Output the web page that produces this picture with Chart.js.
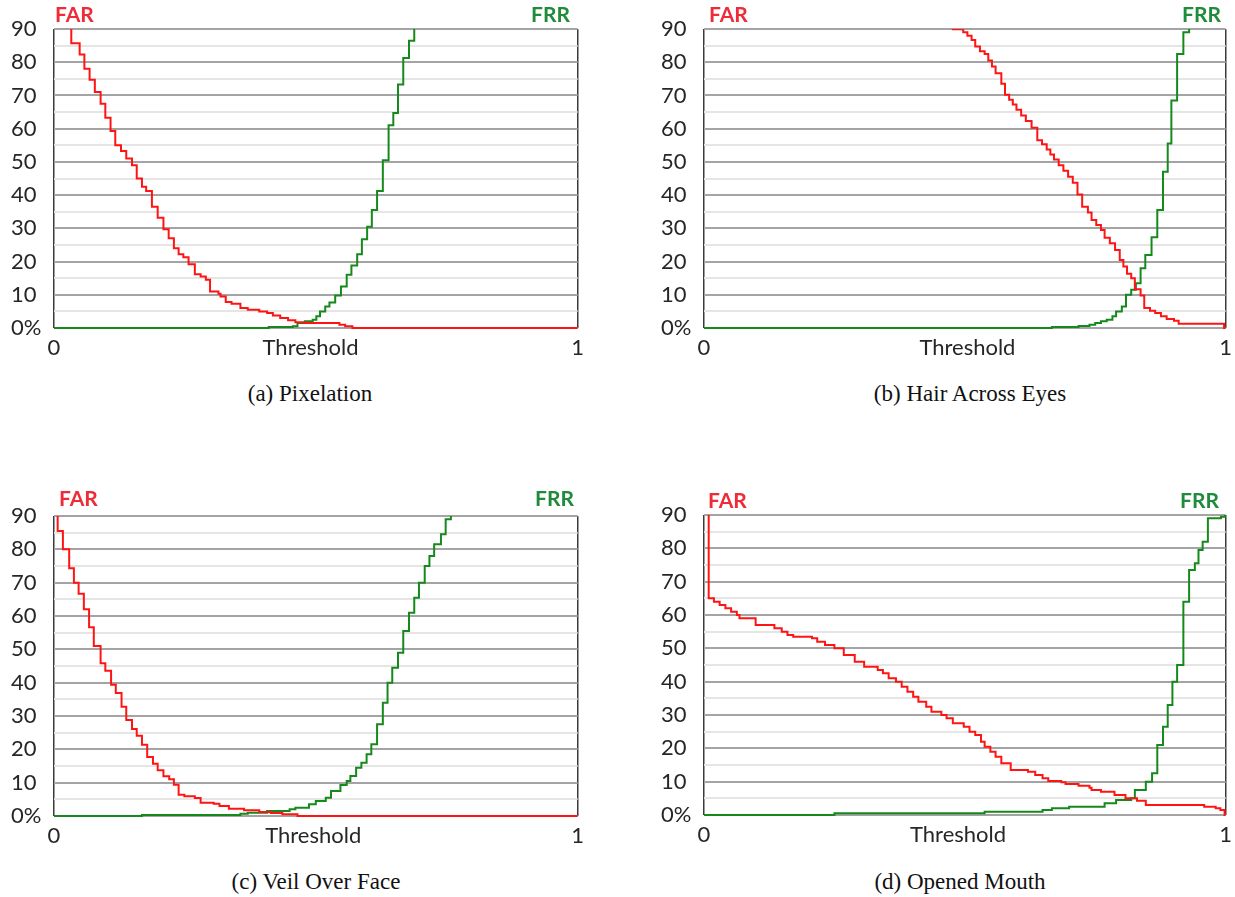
<!DOCTYPE html>
<html>
<head>
<meta charset="utf-8">
<script src="https://cdn.jsdelivr.net/npm/chart.js@4.4.1/dist/chart.umd.min.js"></script>
<style>
html,body{margin:0;padding:0;background:#fff;overflow:hidden;}
#stage{position:relative;width:1235px;height:897px;background:#fff;}
.box{position:absolute;}
.box canvas{display:block;}
.lbl{position:absolute;font-family:Lato,"Open Sans",sans-serif;font-weight:700;font-size:21px;line-height:21px;white-space:nowrap;}
.far{color:#ee2b36;}
.frr{color:#1f8b3b;}
.cap{position:absolute;width:400px;text-align:center;font-family:"Liberation Serif","Times New Roman",serif;font-size:23px;line-height:23px;color:#111;white-space:nowrap;}
</style>
</head>
<body>
<div id="stage">
  <div class="box" id="boxA"><canvas id="cA"></canvas></div>
  <div class="box" id="boxB"><canvas id="cB"></canvas></div>
  <div class="box" id="boxC"><canvas id="cC"></canvas></div>
  <div class="box" id="boxD"><canvas id="cD"></canvas></div>

  <div class="lbl far" style="left:55px;top:3px;">FAR</div>
  <div class="lbl frr" style="left:531px;top:3px;">FRR</div>
  <div class="lbl far" style="left:709px;top:3px;">FAR</div>
  <div class="lbl frr" style="left:1182px;top:3px;">FRR</div>
  <div class="lbl far" style="left:59px;top:487px;">FAR</div>
  <div class="lbl frr" style="left:535px;top:487px;">FRR</div>
  <div class="lbl far" style="left:708px;top:489px;">FAR</div>
  <div class="lbl frr" style="left:1180px;top:489px;">FRR</div>

  <div class="cap" style="left:110px;top:382px;">(a) Pixelation</div>
  <div class="cap" style="left:770px;top:382px;">(b) Hair Across Eyes</div>
  <div class="cap" style="left:116px;top:870px;">(c) Veil Over Face</div>
  <div class="cap" style="left:760px;top:870px;">(d) Opened Mouth</div>
</div>
<script>
// ---------- tick labels ----------
const yMinorTicks = [0,5,10,15,20,25,30,35,40,45,50,55,60,65,70,75,80,85,90];
const yMajorTicks = [0,10,20,30,40,50,60,70,80,90];
const yTickLabels = ['0%','10','20','30','40','50','60','70','80','90'];
const xTickLabels = ['0','Threshold','1'];

// ---------- (a) Pixelation ----------
const farA_x = [0,0.033,0.049,0.058,0.068,0.078,0.089,0.098,0.108,0.117,0.128,0.138,0.149,0.158,0.168,0.176,0.187,0.198,0.209,0.219,0.229,0.238,0.247,0.257,0.269,0.280,0.290,0.298,0.314,0.318,0.328,0.339,0.356,0.370,0.392,0.407,0.418,0.432,0.447,0.461,0.479,0.545,0.556,0.570,1];
const farA_y = [100,85.7,82.3,78,74.7,71,67.5,63.3,59.3,55,53.3,51,49,45,42.5,41.2,36.5,33.2,29.7,27,24,22.2,21.3,19.2,16.2,15.5,14.5,11,10.3,9.5,7.8,7.3,6,5.5,5,4.5,3.8,3,2.3,1.7,1.5,1,0.5,0,0];
const frrA_x = [0,0.410,0.456,0.465,0.479,0.494,0.501,0.508,0.518,0.526,0.537,0.548,0.559,0.568,0.579,0.588,0.598,0.607,0.617,0.628,0.639,0.648,0.657,0.667,0.678,0.688,1];
const frrA_y = [0,0.3,0.5,1.5,2,2.5,3.5,5,6.5,7.7,9.8,12.5,16,18.8,22.2,26.7,30.5,35.5,41.2,50.5,61,64.7,73.3,81.3,86.5,100,100];

// ---------- (b) Hair Across Eyes ----------
const farB_x = [0,0.477,0.497,0.505,0.513,0.520,0.529,0.538,0.545,0.552,0.559,0.570,0.577,0.585,0.592,0.599,0.608,0.617,0.628,0.639,0.648,0.657,0.664,0.671,0.680,0.689,0.698,0.707,0.716,0.725,0.736,0.743,0.752,0.761,0.768,0.778,0.788,0.797,0.804,0.811,0.819,0.826,0.837,0.844,0.855,0.865,0.876,0.887,0.901,0.910,0.997,1];
const farB_y = [100,89.9,89,88,86.7,84.7,83.3,82.5,80.5,78.7,76.7,73.5,70.2,68.7,67.3,65.7,64,62.3,60.3,56.5,55.3,53.7,52.2,50.7,49,47.3,45.5,43.7,40.2,36.5,34.8,32.5,31,29.5,27.2,25.5,23.5,20.5,18.5,16.3,15,11.7,9.8,6,5.2,4.5,3.5,2.7,2.2,1.3,0,0];
const frrB_x = [0,0.667,0.718,0.739,0.750,0.761,0.772,0.783,0.790,0.801,0.809,0.819,0.828,0.837,0.846,0.858,0.869,0.880,0.889,0.896,0.907,0.919,0.930,1];
const frrB_y = [0,0.3,0.6,1,1.5,2,2.5,3.5,5,6.5,10,11.5,13.5,18,22,27.3,35.5,47,55.5,68.5,82.5,89,100,100];

// ---------- (c) Veil Over Face ----------
const farC_x = [0,0.007,0.017,0.029,0.038,0.047,0.057,0.067,0.076,0.089,0.098,0.109,0.118,0.129,0.138,0.149,0.158,0.168,0.178,0.189,0.198,0.209,0.220,0.229,0.238,0.249,0.269,0.280,0.305,0.316,0.334,0.363,0.392,0.414,0.436,0.465,1];
const farC_y = [100,85.5,80,74.3,70,66.7,62,56.6,51,45.8,43.6,39.4,36.9,32.8,28.8,26.1,24.1,21.4,17.7,15.7,13.7,11.9,11,9.4,6.4,5.9,5.4,4,3.7,3,2.2,1.7,1.2,0.9,0.5,0,0];
const frrC_x = [0,0.168,0.356,0.370,0.407,0.450,0.461,0.487,0.500,0.519,0.529,0.547,0.559,0.566,0.577,0.587,0.597,0.606,0.617,0.628,0.637,0.646,0.657,0.667,0.678,0.688,0.697,0.708,0.717,0.726,0.739,0.748,0.758,1];
const frrC_y = [0,0.3,0.7,1,1.5,2,2.5,3.5,4.5,5.5,7.5,9.3,10.5,12,14.5,16,18.5,21.5,27.5,34,40,44.5,49,55.5,61,65.5,70,75,78,81.5,84.5,89,100,100];

// ---------- (d) Opened Mouth ----------
const farD_x = [0,0.009,0.019,0.030,0.041,0.052,0.063,0.068,0.099,0.135,0.149,0.160,0.171,0.207,0.217,0.232,0.250,0.268,0.289,0.307,0.333,0.343,0.354,0.368,0.379,0.390,0.401,0.411,0.426,0.436,0.455,0.465,0.477,0.498,0.509,0.520,0.531,0.538,0.549,0.559,0.570,0.588,0.621,0.635,0.649,0.660,0.685,0.693,0.718,0.739,0.743,0.761,0.787,0.808,0.830,0.847,0.959,0.981,0.990,0.998,1];
const farD_y = [100,65,64,63,62,61,60,59,57,56,55,54,53.5,53,52,51,50,48,46,44.5,43.5,42.5,41,40,38.5,37,35.5,34,32.5,31,30,29,27.5,26.5,25,24,22,20.5,19,17.5,15.5,13.5,13,12,11,10.2,9.8,9.3,8.8,8.2,7.5,7,6,5,4.3,3,2.5,2,1.5,0,0];
const frrD_x = [0,0.250,0.538,0.649,0.667,0.700,0.768,0.790,0.819,0.826,0.847,0.859,0.869,0.880,0.889,0.898,0.907,0.919,0.930,0.941,0.948,0.956,0.966,0.991,0.999,1];
const frrD_y = [0,0.5,1,1.5,2,2.5,3.5,4.5,5,7.5,10,12.5,21,26.5,33,40,45,64,73.5,75.5,79.5,82,89,89.5,90,90];

// ---------- build ----------
function pts(xs, ys){
  const n = Math.min(xs.length, ys.length), out = [];
  for (let i = 0; i < n; i++) out.push({x: xs[i], y: ys[i]});
  return out;
}

const FONT = {family: 'Lato, "Open Sans", sans-serif', size: 22};
const TXT = '#262626';

function makeChart(boxId, canvasId, g, far, frr, thr){
  const box = document.getElementById(boxId);
  const left = g.plotLeft - 43, top = g.plotTop - g.padTop;
  const w = g.plotRight + 10 - left, h = g.plotBottom + 40 - top;
  box.style.left = left + 'px'; box.style.top = top + 'px';
  box.style.width = w + 'px'; box.style.height = h + 'px';
  const cv = document.getElementById(canvasId);
  cv.width = w; cv.height = h; cv.style.width = w + 'px'; cv.style.height = h + 'px';
  const thrTicks = [0, thr, 1];
  new Chart(cv, {
    type: 'line',
    data: {datasets: [
      {label:'FAR', data: pts(far[0], far[1]), borderColor:'#ff1414', borderWidth:2, pointRadius:0, stepped:true, fill:false, tension:0, clip:{left:2,right:2,top:0,bottom:2}},
      {label:'FRR', data: pts(frr[0], frr[1]), borderColor:'#15891c', borderWidth:2, pointRadius:0, stepped:true, fill:false, tension:0, clip:{left:2,right:2,top:0,bottom:2}}
    ]},
    options: {
      responsive:false, maintainAspectRatio:false, animation:false, devicePixelRatio:1, events:[],
      layout:{padding:{left:0, top:g.padTop, right:10, bottom:0}},
      plugins:{legend:{display:false}, tooltip:{enabled:false}, title:{display:false}},
      scales:{
        x:{
          type:'linear', min:0, max:1,
          afterBuildTicks: s => { s.ticks = thrTicks.map(v => ({value:v})); },
          afterFit: s => { s.height = 40; },
          ticks:{autoSkip:false, maxRotation:0, minRotation:0, padding:7, font:FONT, color:TXT,
                 callback:(v, i) => xTickLabels[i]},
          grid:{drawTicks:false, lineWidth:1.5,
                color: c => (c.tick && (c.tick.value === 0 || c.tick.value === 1)) ? '#3a3a3a' : 'rgba(0,0,0,0)'},
          border:{display:false}
        },
        y:{
          type:'linear', min:0, max:90,
          afterBuildTicks: s => { s.ticks = yMinorTicks.map(v => ({value:v})); },
          afterFit: s => { s.width = 43; },
          ticks:{autoSkip:false, padding:0, crossAlign:'far', font:FONT, color:TXT,
                 callback: v => { const i = yMajorTicks.indexOf(v); return i >= 0 ? yTickLabels[i] : ''; }},
          grid:{drawTicks:false, lineWidth:2,
                color: c => (c.tick && c.tick.value % 10 === 0) ? '#a4a4a4' : '#e5e5e5'},
          border:{display:false}
        }
      }
    }
  });
}

makeChart('boxA','cA',{plotLeft:54, plotRight:581, plotTop:29, plotBottom:328, padTop:29}, [farA_x,farA_y], [frrA_x,frrA_y], 0.49);
makeChart('boxB','cB',{plotLeft:704, plotRight:1229, plotTop:29, plotBottom:328, padTop:29}, [farB_x,farB_y], [frrB_x,frrB_y], 0.505);
makeChart('boxC','cC',{plotLeft:54, plotRight:581, plotTop:516, plotBottom:816, padTop:36}, [farC_x,farC_y], [frrC_x,frrC_y], 0.495);
makeChart('boxD','cD',{plotLeft:704, plotRight:1229, plotTop:515, plotBottom:815, padTop:35}, [farD_x,farD_y], [frrD_x,frrD_y], 0.487);
</script>
</body>
</html>
